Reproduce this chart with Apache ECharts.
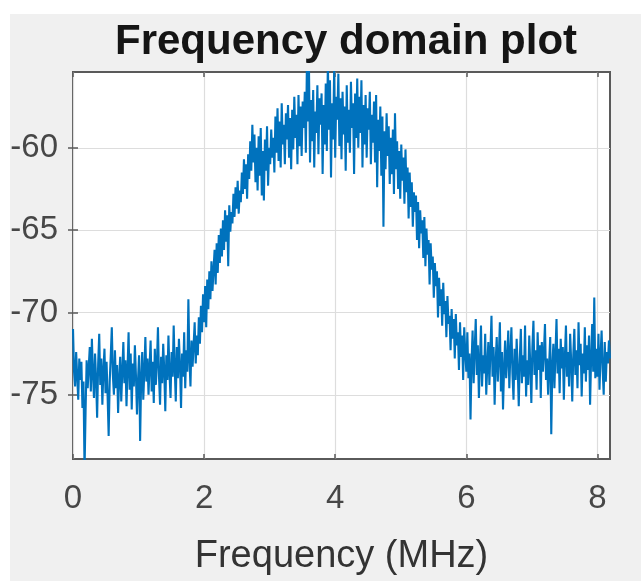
<!DOCTYPE html>
<html><head><meta charset="utf-8">
<script src="https://cdn.jsdelivr.net/npm/echarts@6/dist/echarts.min.js"></script>
<style>
html,body{margin:0;padding:0;background:#fff;width:641px;height:581px;overflow:hidden}
#c{position:absolute;left:10px;top:14px;width:631px;height:567px;background:#f0f0f0}
</style></head><body><div id="c"></div>
<script>
const titleText = 'Frequency domain plot';
const xName = 'Frequency (MHz)';
const freqStep = 0.016; // MHz between samples
const powerDb = [
  -71.0,-73.6,-74.5,-72.4,-73.9,-75.3,-72.8,-74.1,-73.0,-75.8,-74.2,-79.6,-76.0,-72.9,-74.6,-73.3,
  -72.1,-74.8,-71.6,-73.7,-75.2,-72.5,-74.0,-76.4,-73.1,-71.3,-74.4,-72.8,-75.6,-73.5,-72.2,-74.9,
  -73.0,-75.1,-77.5,-74.2,-72.6,-70.9,-73.8,-75.0,-72.3,-74.6,-73.2,-76.1,-74.0,-72.7,-75.4,-73.6,
  -71.8,-74.3,-72.9,-75.7,-73.4,-71.2,-74.7,-72.5,-75.9,-73.1,-74.5,-72.0,-73.8,-76.2,-74.1,-72.6,
  -77.8,-74.0,-72.4,-75.3,-73.6,-71.5,-74.2,-72.8,-75.0,-73.3,-71.7,-74.8,-73.0,-75.5,-72.2,-74.4,
  -73.1,-70.9,-73.9,-75.6,-72.7,-74.3,-71.9,-73.5,-76.0,-72.6,-74.1,-71.4,-73.7,-75.2,-72.4,-73.9,
  -70.8,-73.4,-75.4,-72.1,-74.0,-71.6,-73.2,-75.8,-72.5,-73.9,-71.2,-74.6,-72.3,-73.6,-69.2,-72.8,
  -74.5,-71.7,-73.3,-72.0,-70.6,-73.1,-71.4,-72.6,-70.3,-71.9,-69.6,-71.2,-68.9,-70.6,-68.4,-70.9,
  -68.0,-69.8,-67.5,-69.2,-66.9,-68.7,-67.4,-66.2,-68.3,-65.8,-67.6,-65.3,-67.0,-64.9,-66.6,-64.4,
  -66.2,-63.8,-65.7,-64.1,-67.2,-63.5,-65.1,-63.9,-64.6,-62.8,-64.2,-62.4,-63.7,-62.0,-64.0,-62.6,
  -63.3,-61.5,-62.8,-60.7,-62.5,-61.0,-63.1,-60.4,-61.9,-59.6,-61.4,-58.6,-60.9,-59.2,-62.1,-60.0,
  -62.6,-59.3,-61.7,-58.8,-62.9,-60.2,-63.2,-59.5,-61.4,-58.7,-62.3,-60.0,-61.0,-58.9,-60.6,-59.4,
  -61.5,-58.1,-60.3,-57.6,-60.8,-58.4,-61.2,-57.3,-59.8,-58.6,-61.0,-57.9,-59.5,-57.4,-60.6,-58.2,
  -61.3,-57.7,-60.1,-56.9,-59.4,-58.0,-61.0,-56.8,-59.9,-57.5,-60.5,-57.2,-58.8,-56.6,-60.3,-55.0,
  -58.4,-55.2,-60.9,-57.1,-59.6,-56.5,-61.2,-57.8,-59.1,-56.2,-60.4,-57.0,-58.6,-56.7,-61.6,-57.4,
  -59.8,-56.1,-60.2,-54.8,-58.9,-55.9,-61.8,-57.3,-59.5,-55.3,-60.6,-56.9,-58.3,-55.5,-59.9,-57.0,
  -60.7,-56.6,-59.2,-57.5,-61.4,-56.2,-59.7,-57.7,-60.3,-56.0,-58.8,-57.3,-61.6,-56.7,-59.4,-55.8,
  -60.0,-56.9,-59.1,-55.9,-61.2,-57.4,-59.8,-56.8,-60.6,-57.6,-58.9,-56.6,-61.0,-58.0,-59.7,-57.2,
  -60.9,-56.8,-62.4,-58.3,-60.2,-57.5,-61.7,-58.1,-64.8,-59.0,-61.3,-57.9,-60.5,-58.7,-62.2,-59.4,
  -61.6,-58.9,-62.8,-57.9,-61.3,-59.6,-62.5,-60.2,-63.1,-59.8,-62.0,-60.6,-63.4,-60.1,-62.7,-61.2,
  -64.3,-61.5,-63.6,-62.1,-64.8,-62.7,-63.9,-62.9,-65.6,-63.3,-66.1,-63.8,-65.2,-64.4,-66.7,-64.2,
  -67.2,-64.9,-66.5,-65.6,-68.3,-65.8,-67.4,-66.6,-69.1,-67.0,-68.4,-67.5,-70.3,-67.9,-69.6,-68.6,
  -70.8,-68.2,-70.1,-69.3,-71.5,-69.0,-70.7,-70.2,-72.3,-69.8,-71.6,-70.4,-72.8,-70.1,-72.0,-71.2,
  -73.5,-70.6,-72.7,-71.4,-74.1,-70.9,-72.4,-73.6,-71.2,-74.0,-72.5,-76.5,-73.0,-71.1,-74.3,-72.2,
  -70.4,-73.8,-72.0,-75.2,-72.9,-70.8,-74.5,-72.6,-73.7,-71.3,-75.0,-73.2,-71.8,-74.4,-72.3,-70.2,
  -73.9,-72.1,-75.6,-73.0,-71.5,-74.2,-72.7,-70.6,-74.8,-72.4,-75.9,-73.4,-71.7,-74.0,-72.8,-71.1,
  -74.6,-72.5,-70.9,-73.7,-75.3,-72.2,-74.1,-71.6,-73.4,-75.7,-72.8,-71.0,-74.3,-72.6,-73.9,-70.8,
  -75.1,-72.9,-74.4,-71.4,-73.2,-75.5,-72.1,-70.5,-73.8,-72.3,-74.7,-71.2,-73.5,-72.0,-75.2,-71.8,
  -73.6,-72.4,-70.7,-74.1,-72.8,-75.0,-73.1,-71.5,-77.4,-73.3,-71.9,-74.6,-72.5,-70.4,-73.7,-72.2,
  -74.9,-71.6,-73.4,-72.1,-75.3,-72.7,-70.8,-73.9,-72.4,-74.5,-71.3,-73.0,-75.4,-72.6,-71.0,-73.8,
  -72.3,-74.6,-70.6,-73.2,-71.9,-75.1,-72.5,-73.7,-70.9,-74.2,-72.0,-73.5,-71.4,-75.6,-72.8,-70.7,
  -73.6,-69.1,-74.0,-72.2,-73.9,-71.3,-74.7,-72.6,-71.1,-73.5,-75.0,-71.8,-74.2,-72.4,-73.1,-71.7,
  -72.8
];
const xTicks = [0, 2, 4, 6, 8];
const yTicks = [-75, -70, -65, -60];
const xRange = [0, 8.192];
const yRange = [-78.9, -55.4];

const seriesData = powerDb.map((v, i) => [i * freqStep, v]);
const font = 'Liberation Sans, Arial, Helvetica, sans-serif';
const tickColor = '#474747';

const chart = echarts.init(document.getElementById('c'), null, {renderer: 'canvas'});
const hiddenAxisCommon = {
  axisLine: {show: false},
  axisLabel: {show: false},
  splitLine: {show: false}
};
chart.setOption({
  animation: false,
  backgroundColor: '#f0f0f0',
  title: {
    text: titleText,
    left: 331, textAlign: 'center',
    top: 2,
    textStyle: {fontFamily: font, fontSize: 42, fontWeight: 'bold', color: '#151515'}
  },
  grid: {
    left: 63, top: 58, right: 31, bottom: 122,
    show: true, backgroundColor: '#ffffff', borderColor: '#5a5a5a', borderWidth: 2,
    containLabel: false, outerBoundsMode: 'none'
  },
  xAxis: [{
    type: 'value', min: xRange[0], max: xRange[1], position: 'bottom',
    name: xName, nameLocation: 'middle', nameGap: 79,
    nameTextStyle: {fontFamily: font, fontSize: 38, color: '#333'},
    axisLine: {show: false},
    axisTick: {show: true, inside: true, length: 5, customValues: xTicks, lineStyle: {color: '#5a5a5a', width: 1.5}},
    axisLabel: {customValues: xTicks, fontFamily: font, fontSize: 33, color: tickColor, margin: 23},
    splitLine: {show: true, lineStyle: {color: '#dddddd', width: 1.2}}
  }, Object.assign({
    type: 'value', min: xRange[0], max: xRange[1], position: 'top',
    axisTick: {show: true, inside: true, length: 5, customValues: xTicks, lineStyle: {color: '#5a5a5a', width: 1.5}}
  }, hiddenAxisCommon)],
  yAxis: [{
    type: 'value', min: yRange[0], max: yRange[1], position: 'left',
    axisLine: {show: false},
    axisTick: {show: true, inside: true, length: 5, customValues: yTicks, lineStyle: {color: '#5a5a5a', width: 1.5}},
    axisLabel: {customValues: yTicks, fontFamily: font, fontSize: 33, color: tickColor, margin: 15},
    splitLine: {show: true, lineStyle: {color: '#dddddd', width: 1.2}}
  }, Object.assign({
    type: 'value', min: yRange[0], max: yRange[1], position: 'right',
    axisTick: {show: true, inside: true, length: 5, customValues: yTicks, lineStyle: {color: '#5a5a5a', width: 1.5}}
  }, hiddenAxisCommon)],
  series: [{
    type: 'line',
    xAxisIndex: 0, yAxisIndex: 0,
    data: seriesData,
    showSymbol: false,
    clip: true,
    lineStyle: {color: '#0072BD', width: 2.1},
    z: 3
  }]
});
</script></body></html>
